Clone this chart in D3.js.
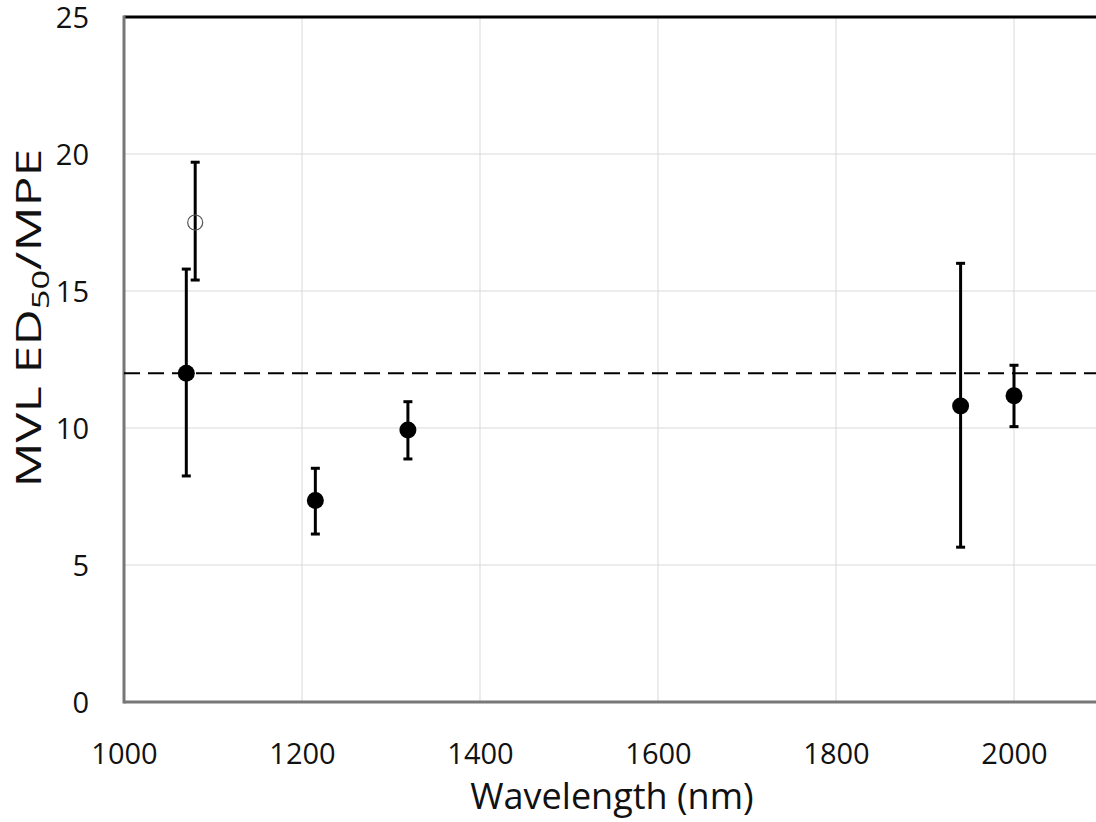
<!DOCTYPE html>
<html>
<head>
<meta charset="utf-8">
<script src="https://cdn.jsdelivr.net/npm/d3@7"></script>
<style>
  html, body { margin: 0; padding: 0; background: #fff; overflow: hidden; }
  svg { display: block; font-family: "Open Sans", sans-serif; }
</style>
</head>
<body>
<svg id="chart" width="1096" height="822"></svg>
<script>
// Wavelength (nm) of each measured point
const wavelengths = [1070, 1215, 1319, 1940, 2000];
// MVL ED50 / MPE ratio and its error-bar limits
const ratios      = [12.0, 7.35, 9.93, 10.8, 11.18];
const lowerLimits = [8.25, 6.13, 8.87, 5.65, 10.05];
const upperLimits = [15.8, 8.53, 10.96, 16.01, 12.29];

// Separate open-marker point
const openWavelengths = [1080];
const openRatios      = [17.5];
const openLower       = [15.4];
const openUpper       = [19.7];

// Reference level (dashed line)
const referenceLevel = [12.0];

// Axis ticks
const xTicks = [1000, 1200, 1400, 1600, 1800, 2000];
const yTicks = [0, 5, 10, 15, 20, 25];

const svg = d3.select("#chart");
const W = 1096, H = 822;
const plotLeft = 124, plotTop = 17, plotBottom = 702;

const x = d3.scaleLinear().domain([1000, 2100]).range([plotLeft, 1103]);
const y = d3.scaleLinear().domain([0, 25]).range([plotBottom, plotTop]);

// Gridlines
const grid = svg.append("g");
grid.selectAll("line.h").data(yTicks.filter(v => v > 0 && v < 25)).enter()
  .append("line")
  .attr("x1", plotLeft).attr("x2", W)
  .attr("y1", d => y(d)).attr("y2", d => y(d))
  .attr("stroke", "#d9d9d9").attr("stroke-width", 1);
grid.selectAll("line.v").data(xTicks.filter(v => v > 1000)).enter()
  .append("line")
  .attr("x1", d => x(d)).attr("x2", d => x(d))
  .attr("y1", plotTop).attr("y2", plotBottom)
  .attr("stroke", "#d9d9d9").attr("stroke-width", 1);

// Frame: black top edge, grey left and bottom axes
svg.append("line")
  .attr("x1", plotLeft).attr("x2", W).attr("y1", plotTop).attr("y2", plotTop)
  .attr("stroke", "#000").attr("stroke-width", 3);

// Axes with D3 (labels only, lines drawn separately)
const xAxis = d3.axisBottom(x).tickValues(xTicks).tickFormat(d3.format("d"))
  .tickSize(0).tickPadding(0);
const gx = svg.append("g").attr("transform", `translate(0,${plotBottom})`).call(xAxis);
gx.select(".domain").remove();
gx.selectAll("text")
  .attr("y", 62).attr("dy", 0)
  .attr("font-size", 29).attr("font-family", "'Open Sans', sans-serif")
  .attr("fill", "#111");

const yAxis = d3.axisLeft(y).tickValues(yTicks).tickSize(0).tickPadding(0);
const gy = svg.append("g").attr("transform", `translate(${plotLeft},0)`).call(yAxis);
gy.select(".domain").remove();
gy.selectAll("text")
  .attr("x", -35).attr("dy", "0.36em")
  .attr("font-size", 29).attr("font-family", "'Open Sans', sans-serif")
  .attr("fill", "#111");

svg.append("line")
  .attr("x1", plotLeft).attr("x2", plotLeft).attr("y1", plotTop - 1.5).attr("y2", plotBottom + 1.5)
  .attr("stroke", "#777").attr("stroke-width", 3);
svg.append("line")
  .attr("x1", plotLeft).attr("x2", W).attr("y1", plotBottom).attr("y2", plotBottom)
  .attr("stroke", "#777").attr("stroke-width", 3);

// Dashed reference line
svg.selectAll("line.ref").data(referenceLevel).enter()
  .append("line")
  .attr("x1", plotLeft).attr("x2", W)
  .attr("y1", d => y(d)).attr("y2", d => y(d))
  .attr("stroke", "#000").attr("stroke-width", 2)
  .attr("stroke-dasharray", "16,8");

// Error bars
function errorBars(xs, lo, hi) {
  const g = svg.append("g").attr("stroke", "#000").attr("stroke-width", 3);
  xs.forEach((wl, i) => {
    const cx = x(wl);
    g.append("line").attr("x1", cx).attr("x2", cx).attr("y1", y(lo[i])).attr("y2", y(hi[i]));
    g.append("line").attr("x1", cx - 4.5).attr("x2", cx + 4.5).attr("y1", y(lo[i])).attr("y2", y(lo[i]));
    g.append("line").attr("x1", cx - 4.5).attr("x2", cx + 4.5).attr("y1", y(hi[i])).attr("y2", y(hi[i]));
  });
}
errorBars(wavelengths, lowerLimits, upperLimits);
errorBars(openWavelengths, openLower, openUpper);

// Filled markers
svg.append("g").selectAll("circle").data(wavelengths).enter()
  .append("circle")
  .attr("cx", d => x(d))
  .attr("cy", (d, i) => y(ratios[i]))
  .attr("r", 8.5)
  .attr("fill", "#000");

// Open marker
svg.append("g").selectAll("circle").data(openWavelengths).enter()
  .append("circle")
  .attr("cx", d => x(d))
  .attr("cy", (d, i) => y(openRatios[i]))
  .attr("r", 7.5)
  .attr("fill", "none")
  .attr("stroke", "#555")
  .attr("stroke-width", 1.2);

// Axis titles
svg.append("text")
  .attr("x", 612).attr("y", 809)
  .attr("text-anchor", "middle")
  .attr("font-size", 36).attr("fill", "#111")
  .text("Wavelength (nm)");

// Vertical title, stretched along its reading direction to span 339 px
const yt = svg.append("text")
  .attr("text-anchor", "middle")
  .attr("font-size", 35).attr("fill", "#111");
yt.append("tspan").text("MVL ED");
yt.append("tspan").attr("font-size", 24).attr("dy", 8).text("50");
yt.append("tspan").attr("dy", -8).text("/MPE");
const titleLen = yt.node().getBBox().width;
const stretch = 339 / titleLen;
yt.attr("transform", `translate(41,318) rotate(-90) scale(${stretch},1)`);
</script>
</body>
</html>
